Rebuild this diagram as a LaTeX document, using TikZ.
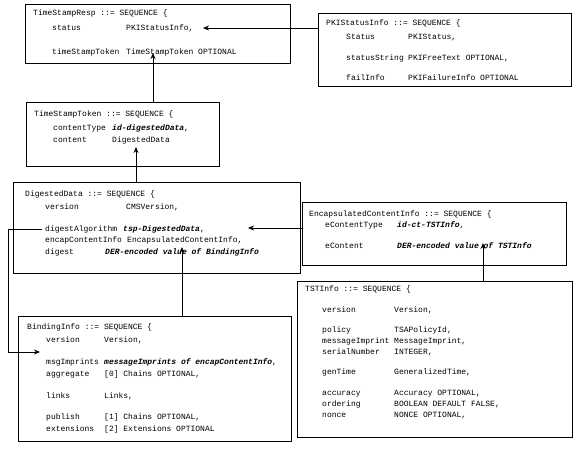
\documentclass[tikz,border=0pt]{standalone}
\usepackage{fontspec}
\usepackage{tikz}
\usetikzlibrary{arrows.meta, positioning, calc}
\newfontfamily\asnfont{Liberation Mono}
\newcommand{\bi}[1]{\textbf{\textit{#1}}}

\tikzset{
  asnbox/.style={draw, line width=0.9pt, inner sep=0pt, anchor=north west},
  code/.style={anchor=base west, inner sep=0pt, font=\asnfont\fontsize{8}{10}\selectfont},
  link/.style={-{Stealth[length=6pt, width=5pt]}, line width=0.8pt},
}

\begin{document}
\begin{tikzpicture}[x=1pt, y=-1pt]
  \useasboundingbox (0,0) rectangle (575,455);

  % the boxes
  \node[asnbox, minimum width=265pt, minimum height=59pt] (resp) at (25,4) {};
  \node[asnbox, minimum width=253pt, minimum height=73pt] (pki) at (318,13) {};
  \node[asnbox, minimum width=193pt, minimum height=64pt] (token) at (26,102) {};
  \node[asnbox, minimum width=287pt, minimum height=91pt] (digest) at (13,182) {};
  \node[asnbox, minimum width=264pt, minimum height=63pt] (encap) at (302,202) {};
  \node[asnbox, minimum width=273pt, minimum height=125pt] (bind) at (18,316) {};
  \node[asnbox, minimum width=275pt, minimum height=156pt] (tst) at (297,281) {};

  % TimeStampResp
  \node[code] (resp-t) at (33,15) {TimeStampResp ::= SEQUENCE \{};
  \foreach \n/\y/\f/\v in {1/30/status/{PKIStatusInfo,},
                           2/54/timeStampToken/{TimeStampToken OPTIONAL}} {
    \node[code] (resp-f\n) at (52,\y) {\f};
    \node[code] (resp-v\n) at (126,\y) {\v};
  }

  % PKIStatusInfo
  \node[code] (pki-t) at (326,25) {PKIStatusInfo ::= SEQUENCE \{};
  \foreach \n/\y/\f/\v in {1/39/Status/{PKIStatus,},
                           2/60/statusString/{PKIFreeText OPTIONAL,},
                           3/80/failInfo/{PKIFailureInfo OPTIONAL}} {
    \node[code] (pki-f\n) at (346,\y) {\f};
    \node[code] (pki-v\n) at (408,\y) {\v};
  }

  % TimeStampToken
  \node[code] (token-t) at (34,116) {TimeStampToken ::= SEQUENCE \{};
  \node[code] (token-f1) at (53,130) {contentType};
  \node[code] (token-v1) at (112,130) {\bi{id-digestedData},};
  \node[code] (token-f2) at (53,142) {content};
  \node[code] (token-v2) at (112,142) {DigestedData};

  % DigestedData
  \node[code] (digest-t) at (25,196) {DigestedData ::= SEQUENCE \{};
  \node[code] (digest-f1) at (45,209) {version};
  \node[code] (digest-v1) at (126,209) {CMSVersion,};
  \node[code] (dalg) at (45,231) {digestAlgorithm};
  \node[code] (digest-v2) at (123,231) {\bi{tsp-DigestedData},};
  \node[code] (digest-f3) at (45,242) {encapContentInfo};
  \node[code] (digest-v3) at (127,242) {EncapsulatedContentInfo,};
  \node[code] (digest-f4) at (45,254) {digest};
  \node[code] (digest-v4) at (105,254) {\bi{DER-encoded value of BindingInfo}};

  % EncapsulatedContentInfo
  \node[code] (encap-t) at (309,216) {EncapsulatedContentInfo ::= SEQUENCE \{};
  \node[code] (encap-f1) at (325,227) {eContentType};
  \node[code] (encap-v1) at (397,227) {\bi{id-ct-TSTInfo},};
  \node[code] (encap-f2) at (325,248) {eContent};
  \node[code] (encap-v2) at (397,248) {\bi{DER-encoded value of TSTInfo}};

  % BindingInfo
  \node[code] (bind-t) at (27,329) {BindingInfo ::= SEQUENCE \{};
  \foreach \n/\y/\f/\v in {1/342/version/{Version,},
                           2/364/msgImprints/{\bi{messageImprints of encapContentInfo},},
                           3/376/aggregate/{[0] Chains OPTIONAL,},
                           4/398/links/{Links,},
                           5/419/publish/{[1] Chains OPTIONAL,},
                           6/431/extensions/{[2] Extensions OPTIONAL}} {
    \node[code] (bind-f\n) at (46,\y) {\f};
    \node[code] (bind-v\n) at (104,\y) {\v};
  }

  % TSTInfo
  \node[code] (tst-t) at (305,291) {TSTInfo ::= SEQUENCE \{};
  \foreach \n/\y/\f/\v in {1/312/version/{Version,},
                           2/332/policy/{TSAPolicyId,},
                           3/343/messageImprint/{MessageImprint,},
                           4/354/serialNumber/{INTEGER,},
                           5/374/genTime/{GeneralizedTime,},
                           6/395/accuracy/{Accuracy OPTIONAL,},
                           7/406/ordering/{BOOLEAN DEFAULT FALSE,},
                           8/417/nonce/{NONCE OPTIONAL,}} {
    \node[code] (tst-f\n) at (322,\y) {\f};
    \node[code] (tst-v\n) at (394,\y) {\v};
  }

  % arrow ends
  \coordinate (c-status) at (203,28);
  \coordinate (c-token) at (153,53);
  \coordinate (c-digested) at (136,147);
  \coordinate (c-tsp) at (248,228);
  \coordinate (elbow) at (8,352);
  \coordinate (c-msg) at (40,352);
  \coordinate (c-bind) at (182,247);
  \coordinate (c-ets) at (483,243);

  % connectors
  \draw[link] (pki.west |- c-status) -- (c-status);
  \draw[link] (token.north -| c-token) -- (c-token);
  \draw[link] (digest.north -| c-digested) -- (c-digested);
  \draw[link] (encap.west |- c-tsp) -- (c-tsp);
  \draw[link, shorten <=3pt] (dalg.west) -| (elbow) -- (c-msg);
  \draw[link] (bind.north -| c-bind) -- (c-bind);
  \draw[link] (tst.north -| c-ets) -- (c-ets);
\end{tikzpicture}
\end{document}
